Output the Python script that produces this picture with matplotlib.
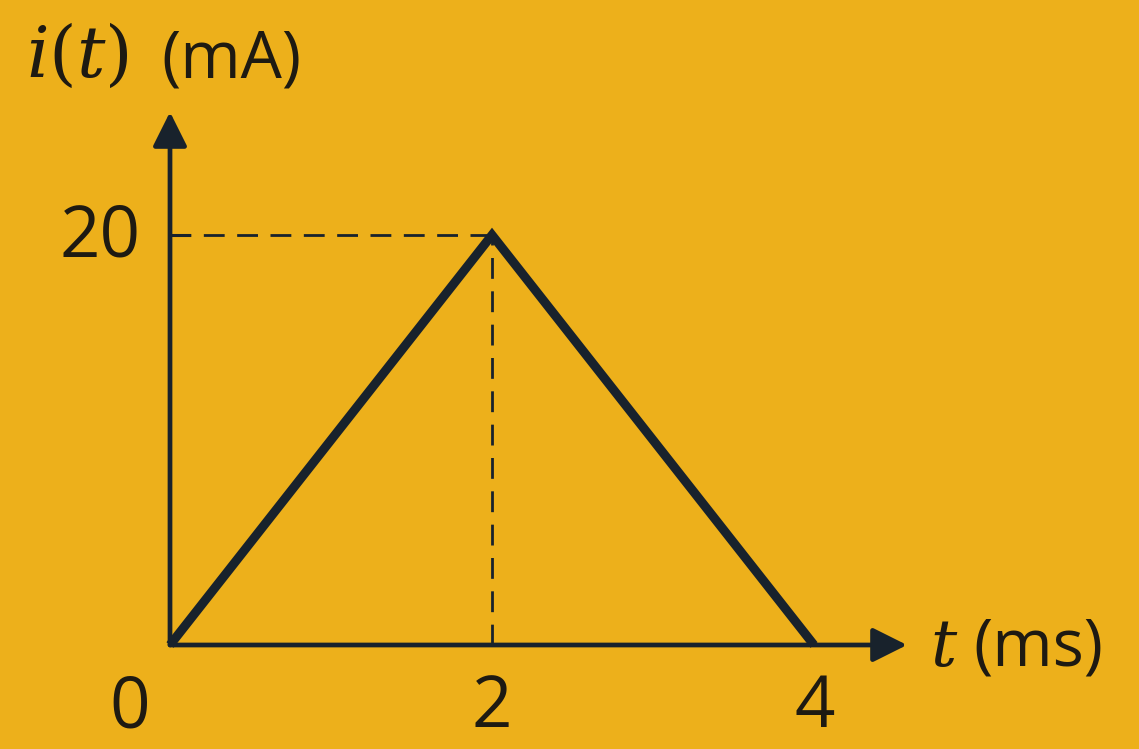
import matplotlib
matplotlib.use("Agg")
import matplotlib.pyplot as plt

# Data
t_ms = [0, 2, 4]
i_mA = [0, 20, 0]
x_ticks = [0, 2, 4]
x_tick_labels = ["0", "2", "4"]
y_ticks = [20]
y_tick_labels = ["20"]
peak_t = 2
peak_i = 20

BG = "#EDB01B"
LINE = "#18222C"
TXT = "#1E1A12"

plt.rcParams['mathtext.fontset'] = 'dejavuserif'

W, H = 1139, 749
fig = plt.figure(figsize=(W / 100, H / 100), dpi=100)
fig.patch.set_facecolor(BG)
ax = fig.add_axes([0, 0, 1, 1])
ax.set_facecolor(BG)
ax.set_xlim(-170/161, (W-170)/161)
ax.set_ylim(-(H-645)/20.5, 645/20.5)
ax.axis('off')

x_end = (907-170)/161
y_end = (645-112)/20.5

arrow = '-|>,head_length=0.5,head_width=0.25'
ax.annotate("", xy=(x_end, 0), xytext=(0, 0),
            arrowprops=dict(arrowstyle=arrow, color=LINE, lw=3.4, mutation_scale=42,
                            shrinkA=0, shrinkB=0))
ax.annotate("", xy=(0, y_end), xytext=(0, 0),
            arrowprops=dict(arrowstyle=arrow, color=LINE, lw=3.4, mutation_scale=42,
                            shrinkA=0, shrinkB=0))

# dashed guides
ax.plot([0, peak_t], [peak_i, peak_i], ls=(0, (7.5, 4.5)), color=LINE, lw=2, zorder=2)
ax.plot([peak_t, peak_t], [0, peak_i], ls=(0, (7.5, 4.5)), color=LINE, lw=2, zorder=2)
ax.plot([0, 0.12], [peak_i, peak_i], color=LINE, lw=2.2, zorder=2)

# signal
ax.plot(t_ms, i_mA, color=LINE, lw=6.5, solid_joinstyle='miter', solid_capstyle='butt', zorder=3)

# tick labels
fs_num = 51
x_off = [-0.25, 0, 0.006]
for xv, lab, dx in zip(x_ticks, x_tick_labels, x_off):
    ax.text(xv + dx, -4.0, lab, ha='center', va='baseline', fontsize=fs_num, color=TXT,
            family='Open Sans')
for yv, lab in zip(y_ticks, y_tick_labels):
    ax.text(-0.18, yv - 1.07, lab, ha='right', va='baseline', fontsize=fs_num, color=TXT,
            family='Open Sans')

# axis labels (pixel positions)
def fx(px):
    return px / W

def fy(py):
    return 1 - py / H

fs_lab = 47
fig.text(fx(26), fy(77), r"$i(t)$", ha='left', va='baseline', fontsize=51, color=TXT)
fig.text(fx(161), fy(77), "(mA)", ha='left', va='baseline', fontsize=fs_lab, color=TXT,
         family='Open Sans')
fig.text(fx(930), fy(666), r"$t$", ha='left', va='baseline', fontsize=fs_lab, color=TXT)
fig.text(fx(973), fy(666), "(ms)", ha='left', va='baseline', fontsize=fs_lab, color=TXT,
         family='Open Sans')

fig.savefig("out.png", dpi=100, facecolor=BG)
